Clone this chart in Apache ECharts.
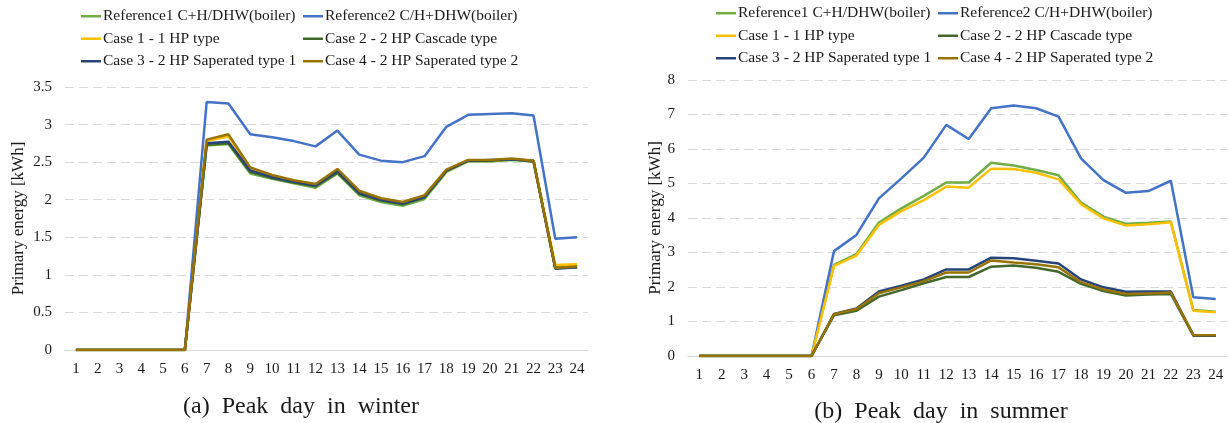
<!DOCTYPE html>
<html>
<head>
<meta charset="utf-8">
<script src="https://cdn.jsdelivr.net/npm/echarts@6/dist/echarts.min.js"></script>
<style>
  html, body { margin: 0; padding: 0; background: #fff; }
  #chart { width: 1230px; height: 423px; }
</style>
</head>
<body>
<div id="chart"></div>
<script>
// Hours of the day (x axis categories)
const hours = ['1','2','3','4','5','6','7','8','9','10','11','12','13','14','15','16','17','18','19','20','21','22','23','24'];

const seriesNames = [
  'Reference1 C+H/DHW(boiler)',
  'Reference2 C/H+DHW(boiler)',
  'Case 1 - 1 HP type',
  'Case 2 - 2 HP Cascade type',
  'Case 3 - 2 HP Saperated type 1',
  'Case 4 - 2 HP Saperated type 2'
];
const seriesColors = ['#70AD47', '#4472C4', '#FFC000', '#43682B', '#264478', '#997300'];

// Peak day in winter, primary energy [kWh]
const winterRef1  = [0,0,0,0,0,0, 2.72,2.74,2.35,2.28,2.22,2.16,2.35,2.06,1.97,1.92,2.01,2.37,2.51,2.51,2.53,2.51,1.10,1.12];
const winterRef2  = [0,0,0,0,0,0, 3.30,3.28,2.87,2.83,2.78,2.71,2.92,2.60,2.52,2.50,2.58,2.97,3.13,3.14,3.15,3.12,1.48,1.50];
const winterCase1 = [0,0,0,0,0,0, 2.78,2.84,2.40,2.31,2.25,2.20,2.39,2.11,2.01,1.95,2.05,2.38,2.52,2.52,2.54,2.52,1.13,1.14];
const winterCase2 = [0,0,0,0,0,0, 2.73,2.75,2.37,2.29,2.23,2.18,2.36,2.08,1.99,1.94,2.03,2.38,2.52,2.52,2.54,2.51,1.09,1.10];
const winterCase3 = [0,0,0,0,0,0, 2.75,2.77,2.39,2.30,2.24,2.19,2.38,2.09,2.00,1.95,2.04,2.39,2.52,2.53,2.54,2.52,1.08,1.10];
const winterCase4 = [0,0,0,0,0,0, 2.80,2.87,2.43,2.33,2.26,2.21,2.41,2.12,2.02,1.97,2.06,2.40,2.53,2.53,2.55,2.52,1.09,1.11];

// Peak day in summer, primary energy [kWh]
const summerRef1  = [0,0,0,0,0,0, 2.64,2.95,3.87,4.28,4.64,5.03,5.03,5.60,5.52,5.39,5.24,4.45,4.04,3.83,3.86,3.90,1.33,1.28];
const summerRef2  = [0,0,0,0,0,0, 3.04,3.51,4.57,5.15,5.75,6.70,6.29,7.18,7.26,7.18,6.94,5.73,5.10,4.73,4.78,5.08,1.70,1.65];
const summerCase1 = [0,0,0,0,0,0, 2.61,2.91,3.80,4.20,4.52,4.91,4.88,5.43,5.42,5.31,5.12,4.40,3.99,3.78,3.82,3.88,1.31,1.27];
const summerCase2 = [0,0,0,0,0,0, 1.18,1.31,1.72,1.91,2.11,2.29,2.29,2.59,2.62,2.56,2.44,2.09,1.88,1.75,1.78,1.80,0.59,0.59];
const summerCase3 = [0,0,0,0,0,0, 1.22,1.38,1.87,2.04,2.22,2.51,2.51,2.85,2.83,2.76,2.68,2.22,1.99,1.86,1.87,1.87,0.61,0.59];
const summerCase4 = [0,0,0,0,0,0, 1.21,1.36,1.82,1.99,2.17,2.42,2.42,2.77,2.71,2.66,2.57,2.14,1.93,1.80,1.81,1.84,0.61,0.60];

const winterData = [winterRef1, winterRef2, winterCase1, winterCase2, winterCase3, winterCase4];
const summerData = [summerRef1, summerRef2, summerCase1, summerCase2, summerCase3, summerCase4];

const FONT = 'Liberation Serif';
const TEXT = '#1a1a1a';
const GRID_LINE = '#d9d9d9';

function lineSeries(data, idx, axisIdx) {
  return {
    name: seriesNames[idx],
    type: 'line',
    xAxisIndex: axisIdx,
    yAxisIndex: axisIdx,
    data: data,
    symbol: 'none',
    smooth: false,
    lineStyle: { width: 2.5, color: seriesColors[idx] },
    itemStyle: { color: seriesColors[idx] },
    emphasis: { disabled: true },
    animation: false
  };
}

// Two-column legend: fixed text width keeps the second column aligned
function makeLegend(left, top) {
  return {
    left: left, top: top, width: 452, padding: 0,
    orient: 'horizontal',
    icon: 'rect',
    itemWidth: 20, itemHeight: 2.5, itemGap: 2,
    data: seriesNames,
    textStyle: { fontFamily: FONT, fontSize: 15.5, color: TEXT, width: 198, lineHeight: 20.5, padding: [0, 0, 0, -3] }
  };
}

function categoryAxis(gridIdx) {
  return {
    type: 'category', gridIndex: gridIdx, data: hours, boundaryGap: true,
    axisLine: { show: true, lineStyle: { color: GRID_LINE, width: 1 } },
    axisTick: { show: false },
    axisLabel: { fontFamily: FONT, fontSize: 15, color: TEXT, margin: 12, interval: 0 }
  };
}

function valueAxis(gridIdx, max, interval, gap) {
  return {
    type: 'value', gridIndex: gridIdx, min: 0, max: max, interval: interval,
    name: 'Primary energy [kWh]', nameLocation: 'middle', nameGap: gap, nameRotate: 90,
    nameTextStyle: { fontFamily: FONT, fontSize: 17, color: TEXT },
    axisLine: { show: false }, axisTick: { show: false },
    axisLabel: { fontFamily: FONT, fontSize: 15, color: TEXT, margin: 13 },
    splitLine: { show: true, lineStyle: { color: GRID_LINE, type: [9, 5], width: 1.2 } }
  };
}

const chart = echarts.init(document.getElementById('chart'), null, { renderer: 'canvas' });

const series = [];
winterData.forEach((d, i) => series.push(lineSeries(d, i, 0)));
summerData.forEach((d, i) => series.push(lineSeries(d, i, 1)));

chart.setOption({
  backgroundColor: '#ffffff',
  animation: false,
  title: [
    { text: '(a)  Peak  day  in  winter', left: 296, top: 390, textAlign: 'center',
      textStyle: { fontFamily: FONT, fontSize: 24, fontWeight: 'normal', color: TEXT } },
    { text: '(b)  Peak  day  in  summer', left: 936, top: 395, textAlign: 'center',
      textStyle: { fontFamily: FONT, fontSize: 24, fontWeight: 'normal', color: TEXT } }
  ],
  legend: [ makeLegend(81, 6), makeLegend(716, 3) ],
  grid: [
    { left: 65, top: 87, width: 523, height: 263 },
    { left: 688, top: 80, width: 539, height: 276 }
  ],
  xAxis: [ categoryAxis(0), categoryAxis(1) ],
  yAxis: [ valueAxis(0, 3.5, 0.5, 38), valueAxis(1, 8, 1, 22) ],
  series: series
});
</script>
</body>
</html>
